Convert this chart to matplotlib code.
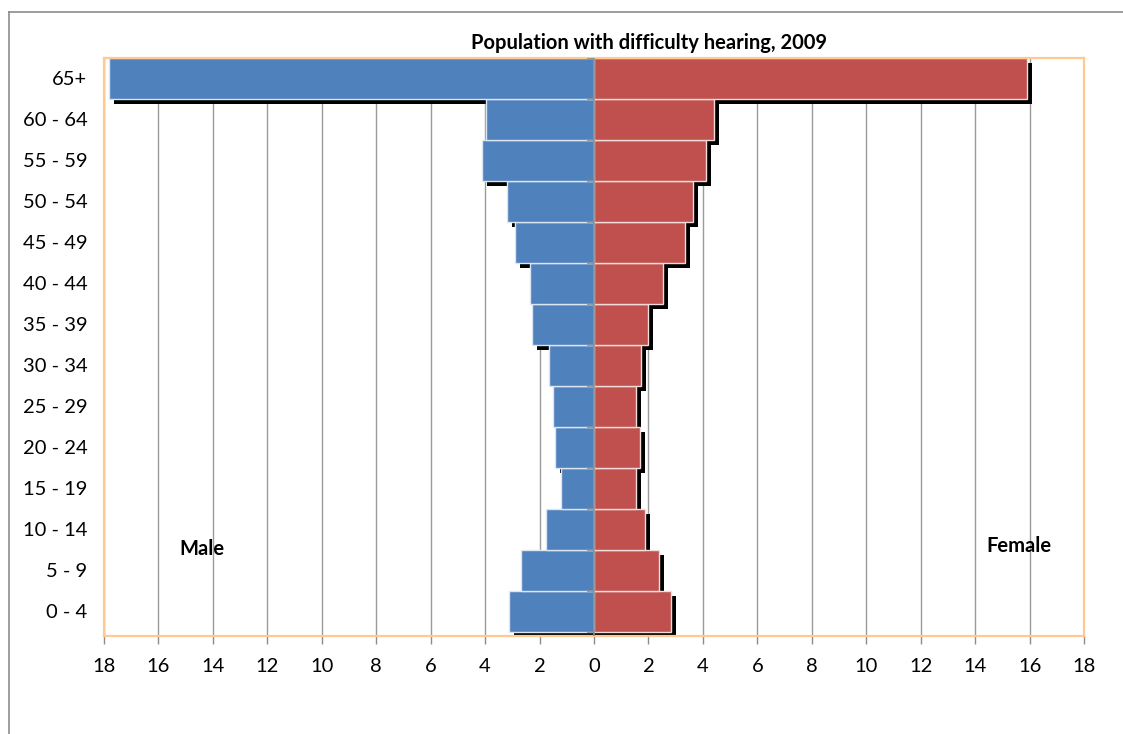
import matplotlib
matplotlib.use('Agg')
import matplotlib.pyplot as plt
import matplotlib.transforms as mtransforms
import numpy as np

# age groups, bottom to top
ages = ['0 - 4', '5 - 9', '10 - 14', '15 - 19', '20 - 24', '25 - 29', '30 - 34',
        '35 - 39', '40 - 44', '45 - 49', '50 - 54', '55 - 59', '60 - 64', '65+']
male = [3.12, 2.68, 1.76, 1.21, 1.42, 1.51, 1.65, 2.26, 2.36, 2.91, 3.19, 4.11, 3.96, 17.8]
female = [2.83, 2.39, 1.87, 1.54, 1.70, 1.56, 1.74, 1.99, 2.54, 3.35, 3.63, 4.11, 4.40, 15.9]
xticks = np.arange(-18, 19, 2)

plt.rcParams['font.family'] = ['Lato', 'DejaVu Sans']

fig = plt.figure(figsize=(11.23, 7.34), dpi=100)
ax = fig.add_axes([104 / 1123, 1 - 636 / 734, 980 / 1123, 578 / 734])

y = np.arange(len(ages))
male_neg = [-v for v in male]

# shadow: shift 5px right and 5px down
shadow = ax.transData + mtransforms.ScaledTranslation(0.05, -0.05, fig.dpi_scale_trans)
ax.barh(y, male_neg, height=1.0, color='black', transform=shadow, zorder=1)
ax.barh(y, female, height=1.0, color='black', transform=shadow, zorder=1)

ax.barh(y, male_neg, height=1.0, color='#4F81BD', edgecolor='#DCE6F2', linewidth=1, zorder=2)
ax.barh(y, female, height=1.0, color='#C0504D', edgecolor='#F2DCDB', linewidth=1, zorder=2)

# zero axis with small tick marks
ax.axvline(0, color='#8C8C8C', linewidth=1.2, zorder=3)
ax.hlines(np.arange(len(ages) + 1) - 0.5, -0.26, 0, color='#8C8C8C', linewidth=1.2, zorder=3)

ax.set_xlim(-18, 18)
ax.set_ylim(-0.6, len(ages) - 0.5)
ax.set_xticks(xticks)
ax.set_xticklabels([str(abs(t)) for t in xticks], fontsize=14.5)
ax.set_yticks(y)
ax.set_yticklabels(ages, fontsize=14.5)
ax.tick_params(axis='y', length=0, pad=12)
ax.tick_params(axis='x', length=6, color='#8C8C8C', width=1, pad=10)
ax.xaxis.grid(True, color='#9A9A9A', linewidth=1)
ax.set_axisbelow(True)
for s in ax.spines.values():
    s.set_color('#FFC993')
    s.set_linewidth(1.6)

fig.text(649 / 1123, 1 - 43 / 734, 'Population with difficulty hearing, 2009',
         fontsize=14.5, fontweight='bold', ha='center', va='center')
ax.text(-14.4, 1.53, 'Male', fontsize=14.5, fontweight='bold', ha='center', va='center')
ax.text(15.6, 1.6, 'Female', fontsize=14.5, fontweight='bold', ha='center', va='center')

# chart frame (top and left visible)
fig.add_artist(plt.Line2D([9 / 1123, 9 / 1123], [0, 1 - 12 / 734], color='#8C8C8C', linewidth=1.2,
                          transform=fig.transFigure))
fig.add_artist(plt.Line2D([9 / 1123, 1], [1 - 12 / 734, 1 - 12 / 734], color='#8C8C8C', linewidth=1.2,
                          transform=fig.transFigure))

fig.savefig('out.png', dpi=100)
